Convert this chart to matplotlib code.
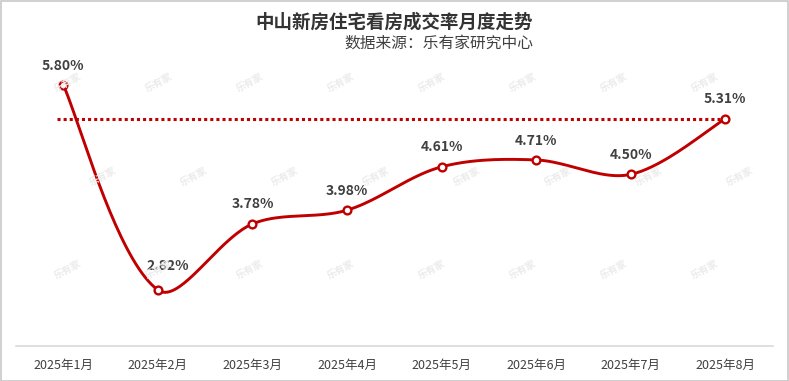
import numpy as np
import matplotlib
matplotlib.use("Agg")
import matplotlib.pyplot as plt
from matplotlib.patches import Rectangle

plt.rcParams['font.family'] = ['Noto Sans CJK SC', 'DejaVu Sans']

months = ["2025年1月", "2025年2月", "2025年3月", "2025年4月",
          "2025年5月", "2025年6月", "2025年7月", "2025年8月"]
rate = [5.80, 2.82, 3.78, 3.98, 4.61, 4.71, 4.50, 5.31]
ref_level = 5.31

title = "中山新房住宅看房成交率月度走势"
subtitle = "数据来源：乐有家研究中心"

RED = "#c00000"
TXT = "#404040"


def smooth_curve(xs, ys, sx=94.6, sy=68.8, n=40):
    # smoothed line: Catmull-Rom tangents, split by neighbouring segment lengths
    p = np.column_stack([np.asarray(xs, float) * sx, np.asarray(ys, float) * sy])
    m = len(p)
    ext = np.vstack([p[0], p, p[-1]])
    out = [p[:1]]
    for i in range(m - 1):
        p0, p1, p2, p3 = ext[i], ext[i + 1], ext[i + 2], ext[i + 3]
        d01 = np.linalg.norm(p1 - p0)
        d12 = np.linalg.norm(p2 - p1)
        d23 = np.linalg.norm(p3 - p2)
        s1 = 2 * d12 / (d01 + d12) if d01 > 0 else 1.0
        s2 = 2 * d12 / (d12 + d23) if d23 > 0 else 1.0
        c1 = p1 + (p2 - p0) / 6 * s1
        c2 = p2 - (p3 - p1) / 6 * s2
        t = np.linspace(0, 1, n)[1:, None]
        seg = ((1 - t) ** 3 * p1 + 3 * (1 - t) ** 2 * t * c1
               + 3 * (1 - t) * t ** 2 * c2 + t ** 3 * p2)
        out.append(seg)
    c = np.vstack(out)
    return c[:, 0] / sx, c[:, 1] / sy


fig = plt.figure(figsize=(7.89, 3.81), dpi=100)
ax = fig.add_axes([16 / 789, 34.6 / 381, 756.6 / 789, 344 / 381])

x = np.arange(len(months))
cx, cy = smooth_curve(x, rate)

ax.hlines(ref_level, -0.063, x[-1], colors=RED, linewidth=2.2,
          linestyles=(0, (1, 1)), zorder=2)
ax.plot(cx, cy, color=RED, linewidth=2.1, zorder=3, solid_capstyle='round')
ax.plot(x, rate, linestyle='none', marker='o', markersize=5.6,
        markerfacecolor='white', markeredgecolor=RED, markeredgewidth=1.7,
        zorder=4)

# label offsets in points (the low point's label sits up and to the right)
offsets = {1: (7, 17.5)}
for i, (xi, v) in enumerate(zip(x, rate)):
    ax.annotate(f"{v:.2f}%", (xi, v), xytext=offsets.get(i, (0, 14)),
                textcoords='offset points', ha='center', va='center',
                fontsize=10, fontweight='bold', color=TXT, zorder=5)

ax.set_xlim(-0.5, len(months) - 0.5)
ax.set_ylim(2.0, 7.0)
ax.set_xticks(x)
ax.set_xticklabels(months, fontsize=9, color=TXT)
ax.tick_params(axis='x', length=0, pad=9)
ax.set_yticks([])
for s in ['left', 'right', 'top']:
    ax.spines[s].set_visible(False)
ax.spines['bottom'].set_color('#d9d9d9')
ax.spines['bottom'].set_linewidth(1.2)
ax.patch.set_alpha(0)

# faint watermarks
for row, yp in enumerate([83, 177, 270]):
    x0 = 103 if row == 1 else 68
    for k in range(8):
        xp = x0 + 91 * k
        if xp > 770:
            continue
        fig.text(xp / 789, 1 - yp / 381, "乐有家", rotation=28, fontsize=7,
                 fontweight='bold', color='#ebebeb', ha='center', va='center',
                 zorder=0)

fig.text(394 / 789, 1 - 22 / 381, title, ha='center', va='center',
         fontsize=13.3, fontweight='bold', color='#333333')
fig.text(533 / 789, 1 - 43 / 381, subtitle, ha='right', va='center',
         fontsize=11.3, color=TXT)

fig.patches.append(Rectangle((0.5 / 789, 0.5 / 381), 1 - 1.5 / 789, 1 - 1.5 / 381,
                             transform=fig.transFigure, fill=False,
                             edgecolor='#c8c8c8', linewidth=1.2))

fig.savefig("out.png", dpi=100)
